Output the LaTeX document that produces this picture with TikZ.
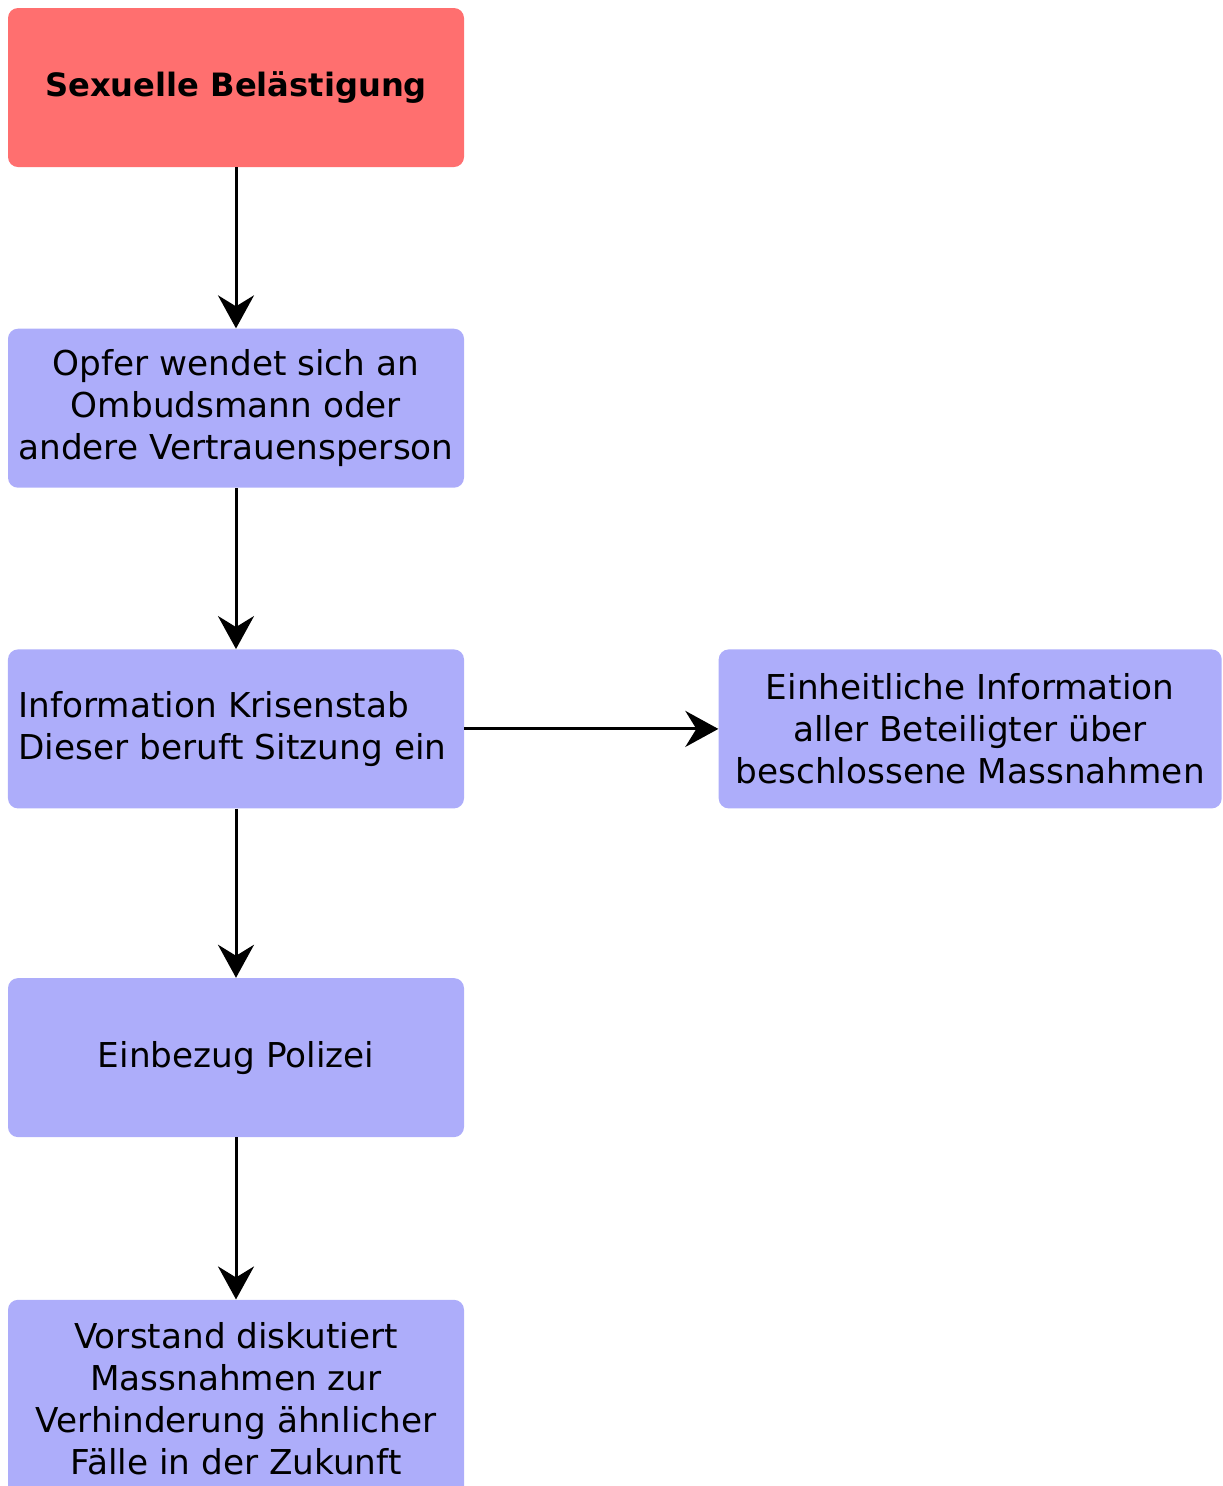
\documentclass[tikz,border=0pt]{standalone}
\usepackage{fontspec}
\setmainfont{DejaVu Sans}
\usepackage{xcolor}
\usetikzlibrary{shapes,arrows.meta,positioning}

\definecolor{alarmred}{RGB}{255,111,111}
\definecolor{stepblue}{RGB}{173,173,250}

\begin{document}
\begin{tikzpicture}[
    box/.style={
        fill=stepblue,
        rounded corners=0.2cm,
        minimum width=9.12cm,
        minimum height=3.18cm,
        inner sep=0pt,
        align=center,
        font=\fontsize{19.5}{23.9}\selectfont
    },
    alarm/.style={
        box,
        fill=alarmred,
        font=\fontsize{18.3}{22}\selectfont\bfseries
    },
    flow/.style={
        -{Stealth[length=0.66cm,width=0.72cm,inset=0.22cm]},
        line width=0.06cm
    }
]
                % page frame
                \clip (0,0) rectangle (24.46,-29.72);

                \node[alarm] (belaestigung) at (4.72,-1.75) {Sexuelle Belästigung};

                \node[box, below=3.22cm of belaestigung] (opfer)
                    {Opfer wendet sich an\\Ombudsmann oder\\andere Vertrauensperson};

                \node[box, below=3.22cm of opfer, align=left,
                      text width=8.7cm, inner xsep=0.21cm] (krisenstab)
                    {Information Krisenstab\\Dieser beruft Sitzung ein};

                \node[box, right=5.08cm of krisenstab, minimum width=10.06cm] (information)
                    {Einheitliche Information\\aller Beteiligter über\\beschlossene Massnahmen};

                \node[box, below=3.38cm of krisenstab] (polizei) {Einbezug Polizei};

                \node[box, below=3.24cm of polizei, minimum height=3.96cm] (vorstand)
                    {Vorstand diskutiert\\Massnahmen zur\\Verhinderung ähnlicher\\Fälle in der Zukunft};

                \draw[flow] (belaestigung) -- (opfer);
                \draw[flow] (opfer) -- (krisenstab);
                \draw[flow] (krisenstab) -- (information);
                \draw[flow] (krisenstab) -- (polizei);
                \draw[flow] (polizei) -- (vorstand);

\end{tikzpicture}
\end{document}
